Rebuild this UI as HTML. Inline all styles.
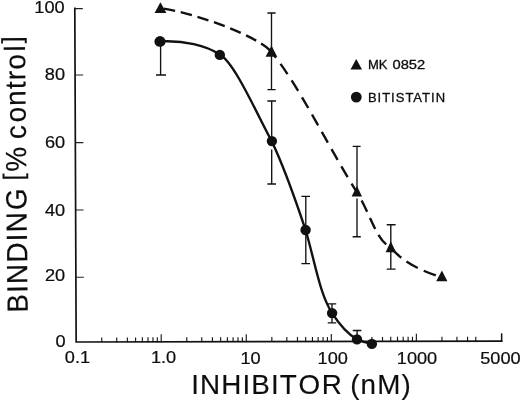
<!DOCTYPE html>
<html><head><meta charset="utf-8">
<style>
html,body{margin:0;padding:0;background:#fff;}
body{width:520px;height:400px;overflow:hidden;}
svg{display:block;}
svg{filter:grayscale(1);}
text{font-family:"Liberation Sans",sans-serif;fill:#0d0d0d;}
</style></head><body>
<svg width="520" height="400" viewBox="0 0 520 400">
<rect width="520" height="400" fill="#fff"/>
<g stroke="#111" stroke-width="1.7" fill="none">
<path d="M74.8 7.4 L76.15 342 L502.4 341.15"/>
</g>
<g stroke="#222" stroke-width="1.1">
<path d="M74.8 8.6H82.8 M75.1 75H83.2 M75.4 142.6H83.4 M75.6 210H83.6 M75.9 277.3H83.9"/>
</g>
<path stroke="#111" stroke-width="1.1" fill="none" d="M101.75 342.25V337.45M116.73 342.22V337.42M127.36 342.20V337.40M135.60 342.18V337.38M142.33 342.17V337.37M148.03 342.16V337.36M152.96 342.15V337.35M157.31 342.14V337.34M161.20 342.13V334.33M186.80 342.08V337.28M201.78 342.05V337.25M212.41 342.03V337.23M220.65 342.01V337.21M227.38 342.00V337.20M233.08 341.99V337.19M238.01 341.98V337.18M242.36 341.97V337.17M246.25 341.96V334.16M271.85 341.91V337.11M286.83 341.88V337.08M297.46 341.86V337.06M305.70 341.84V337.04M312.43 341.83V337.03M318.13 341.82V337.02M323.06 341.81V337.01M327.41 341.80V337.00M331.30 341.79V333.99M356.90 341.74V336.94M371.88 341.71V336.91M382.51 341.69V336.89M390.75 341.67V336.87M397.48 341.66V336.86M403.18 341.65V336.85M408.11 341.64V336.84M412.46 341.63V336.83M416.35 341.62V333.82M441.95 341.57V336.77M456.93 341.54V336.74M467.56 341.52V336.72M475.80 341.50V336.70"/>
<path stroke="#111" stroke-width="1.5" fill="none" d="M501.65 341.9V333.3"/>
<g font-size="16" stroke="#0d0d0d" stroke-width="0.2">
<text transform="translate(64.6 12.9) scale(1.135 1)" text-anchor="end">100</text>
<text transform="translate(65.0 79.6) scale(1.135 1)" text-anchor="end">80</text>
<text transform="translate(65.2 147.5) scale(1.135 1)" text-anchor="end">60</text>
<text transform="translate(65.2 215.5) scale(1.135 1)" text-anchor="end">40</text>
<text transform="translate(65.2 281.1) scale(1.135 1)" text-anchor="end">20</text>
<text transform="translate(65.6 346.65) scale(1.135 1)" text-anchor="end">0</text>
<text transform="translate(77.4 363.1) scale(1.135 1)" text-anchor="middle">0.1</text>
<text transform="translate(163.6 363.2) scale(1.135 1)" text-anchor="middle">1.0</text>
<text transform="translate(250.5 364) scale(1.135 1)" text-anchor="middle">10</text>
<text transform="translate(332.7 363.9) scale(1.135 1)" text-anchor="middle">100</text>
<text transform="translate(417 363.6) scale(1.135 1)" text-anchor="middle">1000</text>
<text transform="translate(500.4 363.6) scale(1.135 1)" text-anchor="middle">5000</text>
</g>
<text x="191.2" y="393.9" font-size="27.8" letter-spacing="1.12" stroke="#0d0d0d" stroke-width="0.15">INHIBIT<tspan dx="1.2">O</tspan><tspan dx="0.4">R</tspan><tspan dx="-1.6"> </tspan>(nM)</text>
<text transform="translate(27.65 312.6) rotate(-90.58) scale(1 1.05)" font-size="27.8" letter-spacing="1.22" stroke="#0d0d0d" stroke-width="0.15">BINDIN<tspan dx="1.2">G</tspan> <tspan dx="-2.4" dy="-3.7" font-size="26">[</tspan><tspan dx="0.5" dy="3.7">%</tspan> <tspan dx="-2.4">c</tspan><tspan dx="1.6">o</tspan>ntro<tspan dx="1.4">l</tspan><tspan dx="0.6" dy="-3.7" font-size="26">]</tspan></text>
<polygon points="356.25,59.1 350.5,69.4 362,69.4" fill="#111"/>
<circle cx="356.3" cy="97.1" r="5.4" fill="#111"/>
<text x="367.9" y="69.2" font-size="13" stroke="#0d0d0d" stroke-width="0.3">MK</text>
<text transform="translate(392.5 69.2) scale(1.134 1)" font-size="13" stroke="#0d0d0d" stroke-width="0.3">0852</text>
<text x="367.9" y="102" font-size="13" letter-spacing="1.0" stroke="#0d0d0d" stroke-width="0.3">BITISTATIN</text>
<path d="M160.4 41.4 C184 40.2 206 45.3 220 54.6 C235 64 255 110 271.6 141 C285.6 170 295.6 200.5 305.6 230 C315 262 320 295 332 312.8 C340 325.5 348 334 357 339.4 C362 341.6 367 343 371.9 343.9" fill="none" stroke="#111" stroke-width="2.4"/>
<g fill="none" stroke="#111" stroke-width="2.4">
<path d="M160 8 C200.4 14.2 260 37.5 271.4 52" stroke-dasharray="11.5 5.8" stroke-dashoffset="13.4"/>
<path d="M271.4 52 C299.9 86.6 328.2 147.1 356.8 192" stroke-dasharray="12.4 7.45" stroke-dashoffset="4.75"/>
<path d="M356.8 192 C371.6 216.5 376.1 240.4 391 247.5" stroke-dasharray="12.4 6.65" stroke-dashoffset="9.25"/>
<path d="M391 247.5 C401.1 260.8 420.2 270.7 442 277.5" stroke-dasharray="13 6.5" stroke-dashoffset="17.9"/>
</g>
<g stroke="#111" stroke-width="1.35" fill="none">
<path d="M160.6 41 V75 M156 75 H166"/>
<path d="M271.5 13 V89.6 M267.4 13 H275.6 M267.4 89.6 H275.6"/>
<path d="M271.7 101 V138 M271.7 149.5 V184 M267.4 101 H276 M267.4 184 H276"/>
<path d="M305.8 196.4 V263.6 M301.4 196.4 H310 M301.4 263.6 H310"/>
<path d="M357 146.4 V190 M357 198.5 V236.7 M352.6 146.4 H360.6 M352.6 236.7 H360.8"/>
<path d="M390.8 224.7 V269.1 M386.7 224.7 H395.6 M386.7 269.1 H395.6"/>
<path d="M332 303.9 V322.9 M327.7 303.9 H336.2 M327.7 322.9 H336.2"/>
<path d="M357.1 330.5 V338 M352.8 330.5 H361.4"/>
</g>
<g fill="#111">
<ellipse cx="160" cy="41.4" rx="5.6" ry="5.3"/>
<circle cx="219.8" cy="54.9" r="5.2"/>
<circle cx="271.9" cy="141.1" r="5.2"/>
<circle cx="305.6" cy="230" r="5.2"/>
<circle cx="332.1" cy="313.1" r="5.2"/>
<circle cx="357" cy="339.4" r="5.2"/>
<circle cx="371.9" cy="343.9" r="5.2"/>
<polygon points="160.4,2.2 154.6,13.1 166.4,13.1"/>
<polygon points="271.5,45.6 265.6,56.8 277.2,56.8"/>
<polygon points="357,186 351.6,196.6 362,196.6"/>
<polygon points="390.8,241.3 385.6,252.3 396,252.3"/>
<polygon points="441.9,270.6 436.2,281.3 447.4,281.3"/>
</g>
</svg>
</body></html>
